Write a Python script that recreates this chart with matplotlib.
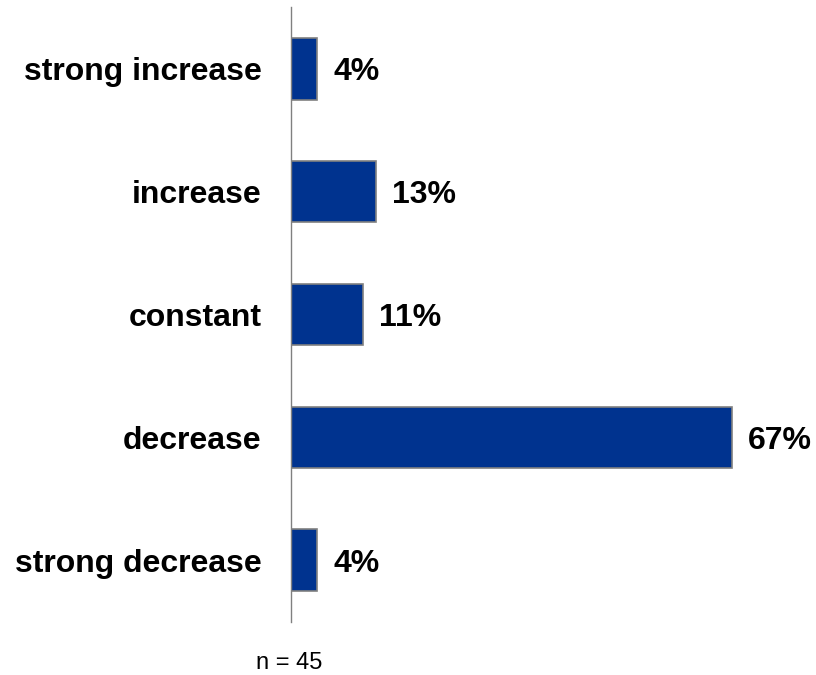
import matplotlib
matplotlib.use('Agg')
import matplotlib.pyplot as plt

# Dados do gráfico
categorias = ['strong increase', 'increase', 'constant', 'decrease', 'strong decrease']
valores = [4, 13, 11, 67, 4]
rotulos = ['4%', '13%', '11%', '67%', '4%']
nota = 'n = 45'

plt.rcParams['font.family'] = ['Liberation Sans', 'DejaVu Sans']

fig = plt.figure(figsize=(8.16, 6.75), dpi=100)
ax = fig.add_axes([291 / 816, 53.5 / 675, 526 / 816, 614 / 675])

pos = list(range(len(categorias)))
barras = ax.barh(pos, valores, height=0.5, color='#00338F',
                 edgecolor='#808080', linewidth=1.2)

for b, txt in zip(barras, rotulos):
    ax.annotate(txt, (b.get_width(), b.get_y() + b.get_height() / 2),
                xytext=(11.5, 0), textcoords='offset points',
                ha='left', va='center_baseline', fontsize=23, fontweight='bold')

ax.set_xlim(0, 80)
ax.set_ylim(len(categorias) - 0.5, -0.5)
ax.set_yticks(pos)
ax.set_yticklabels(categorias, fontsize=23, fontweight='bold')
ax.tick_params(axis='y', length=0, pad=21)
ax.set_xticks([])

for lado in ['top', 'right', 'bottom']:
    ax.spines[lado].set_visible(False)
ax.spines['left'].set_color('#808080')
ax.spines['left'].set_linewidth(1)

fig.text(289 / 816, 1 - 663 / 675, nota, ha='center', va='center', fontsize=17)

fig.savefig('out.png', dpi=100)
